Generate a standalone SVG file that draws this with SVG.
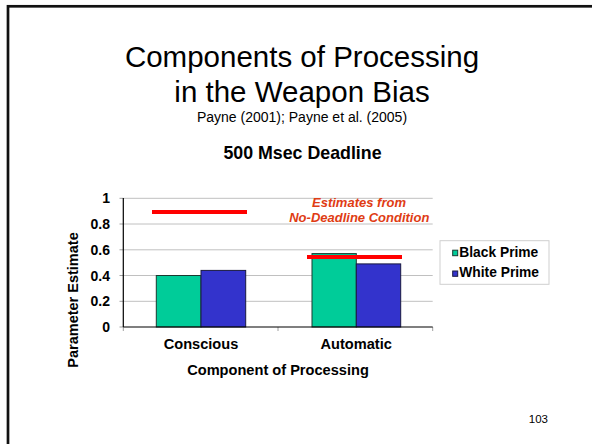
<svg xmlns="http://www.w3.org/2000/svg" width="592" height="444" viewBox="0 0 592 444">
<style>
text{font-family:"Liberation Sans",Arial,sans-serif;fill:#000}
.b{font-weight:bold}
.grid{stroke:#c0c0c0;stroke-width:1}
.tick{stroke:#a0a0a0;stroke-width:1}
.ax{stroke:#000;stroke-width:1.2}
.green{fill:#00cc99;stroke:#1a3a30;stroke-width:1}
.blue{fill:#3333cc;stroke:#1a1a40;stroke-width:1}
.red{stroke:#ff0000;stroke-width:4}
.yl{font-size:14px;font-weight:bold;text-anchor:end}
.est{font-size:13px;font-weight:bold;font-style:italic;fill:#e03c14;text-anchor:middle}
</style>
<rect x="0" y="0" width="592" height="444" fill="#fff"/>
<rect x="8" y="6.3" width="600" height="450" fill="none" stroke="#111" stroke-width="2.7"/>
<g id="title">
<text x="302" y="66.7" font-size="29.5" text-anchor="middle">Components of Processing</text>
<text x="302" y="101.7" font-size="29.5" text-anchor="middle">in the Weapon Bias</text>
<text x="302" y="121.7" font-size="14" text-anchor="middle">Payne (2001); Payne et al. (2005)</text>
</g>
<g id="chart-title"><text x="302.5" y="159.3" font-size="17.8" class="b" text-anchor="middle">500 Msec Deadline</text></g>
<g id="grid">
<line class="grid" x1="123.3" y1="198.3" x2="432.7" y2="198.3"/>
<line class="grid" x1="123.3" y1="224" x2="432.7" y2="224"/>
<line class="grid" x1="123.3" y1="249.8" x2="432.7" y2="249.8"/>
<line class="grid" x1="123.3" y1="275.5" x2="432.7" y2="275.5"/>
<line class="grid" x1="123.3" y1="301.3" x2="432.7" y2="301.3"/>
<line class="tick" x1="119.5" y1="198.3" x2="123.3" y2="198.3"/>
<line class="tick" x1="119.5" y1="224" x2="123.3" y2="224"/>
<line class="tick" x1="119.5" y1="249.8" x2="123.3" y2="249.8"/>
<line class="tick" x1="119.5" y1="275.5" x2="123.3" y2="275.5"/>
<line class="tick" x1="119.5" y1="301.3" x2="123.3" y2="301.3"/>
<line class="tick" x1="119.5" y1="327" x2="123.3" y2="327"/>
<line class="tick" x1="123.3" y1="327" x2="123.3" y2="331"/>
<line class="tick" x1="278" y1="327" x2="278" y2="331"/>
<line class="tick" x1="432.7" y1="327" x2="432.7" y2="331"/>
</g>
<g id="bars">
<rect class="green" x="156.3" y="275.5" width="44.7" height="51.5"/>
<rect class="blue" x="201" y="270.4" width="44.7" height="56.6"/>
<rect class="green" x="312" y="253.6" width="44.3" height="73.4"/>
<rect class="blue" x="356.3" y="263.9" width="44.4" height="63.1"/>
</g>
<g id="axes">
<line class="ax" x1="123.3" y1="198" x2="123.3" y2="327"/>
<line class="ax" x1="123.3" y1="327" x2="432.7" y2="327"/>
</g>
<g id="y-labels">
<text class="yl" x="110" y="203.3">1</text>
<text class="yl" x="110" y="229">0.8</text>
<text class="yl" x="110" y="254.8">0.6</text>
<text class="yl" x="110" y="280.5">0.4</text>
<text class="yl" x="110" y="306.3">0.2</text>
<text class="yl" x="110" y="332">0</text>
</g>
<g id="estimates">
<line class="red" x1="152" y1="212" x2="247" y2="212"/>
<line class="red" x1="307" y1="257" x2="402" y2="257"/>
<text class="est" x="359" y="207.3">Estimates from</text>
<text class="est" x="359.3" y="222">No-Deadline Condition</text>
</g>
<g id="x-labels">
<text x="201" y="349.3" font-size="14.6" class="b" text-anchor="middle">Conscious</text>
<text x="356.2" y="349.3" font-size="14.6" class="b" text-anchor="middle">Automatic</text>
<text x="278" y="375" font-size="14.6" class="b" text-anchor="middle">Component of Processing</text>
<text transform="translate(78,300) rotate(-90)" font-size="14.5" class="b" text-anchor="middle">Parameter Estimate</text>
</g>
<g id="legend">
<rect x="440" y="240.7" width="109" height="43.6" fill="#fff" stroke="#cfcfcf" stroke-width="1"/>
<rect class="green" x="452.7" y="250.2" width="5" height="5.5"/>
<text x="459.3" y="256.7" font-size="13.8" class="b">Black Prime</text>
<rect class="blue" x="452.7" y="271" width="5" height="5.3"/>
<text x="459.3" y="276.7" font-size="13.8" class="b">White Prime</text>
</g>
<g id="page-number"><text x="548" y="423" font-size="11.5" text-anchor="end">103</text></g>
</svg>
